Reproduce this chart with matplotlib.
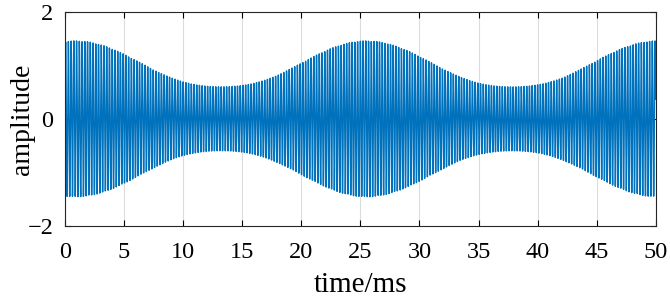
import numpy as np
import matplotlib
matplotlib.use("Agg")
import matplotlib.pyplot as plt

# Signal: tones beating (envelope 0.6 .. 1.46, beat period ~24.6 ms)
tone_freqs_hz = [4330.0, 4289.4, 4248.8]
tone_amps = [0.95, 0.43, 0.08]
tone_phases = [0.0, 0.23, 0.46]
sample_rate_hz = 100000.0
duration_ms = 50.0

xticks = [0, 5, 10, 15, 20, 25, 30, 35, 40, 45, 50]
yticks = [-2, 0, 2]
xlabel = "time/ms"
ylabel = "amplitude"

t = np.arange(0, duration_ms / 1000.0, 1.0 / sample_rate_hz)
y = np.zeros_like(t)
for f, a, p in zip(tone_freqs_hz, tone_amps, tone_phases):
    y += a * np.sin(2 * np.pi * f * t + p)
t_ms = t * 1000.0

plt.rcParams['font.family'] = ['Liberation Serif', 'DejaVu Serif']
fig = plt.figure(figsize=(6.7, 3.0), dpi=100)
ax = fig.add_axes([0.097, 0.2477, 0.8817, 0.7123])
ax.plot(t_ms, y, color='#0072BD', linewidth=1.0)
ax.set_xlim(0, 50)
ax.set_ylim(-2, 2)
ax.set_xticks(xticks)
ax.set_yticks(yticks)
ax.set_yticklabels(['\u22122', '0', '2'])
ax.tick_params(direction='in', top=True, right=True, labelsize=17.5, length=4, width=0.8)
ax.tick_params(axis='x', pad=12)
ax.tick_params(axis='y', pad=8.5)
ax.grid(axis='x', color='#dcdcdc', linewidth=0.8)
ax.set_axisbelow(True)
for s in ax.spines.values():
    s.set_linewidth(0.8)
    s.set_color('#262626')
ax.set_xlabel(xlabel, fontsize=21, labelpad=6)
ax.set_ylabel(ylabel, fontsize=20)
ax.yaxis.set_label_coords(-0.05, 0.5)
fig.savefig('out.png', dpi=100)
